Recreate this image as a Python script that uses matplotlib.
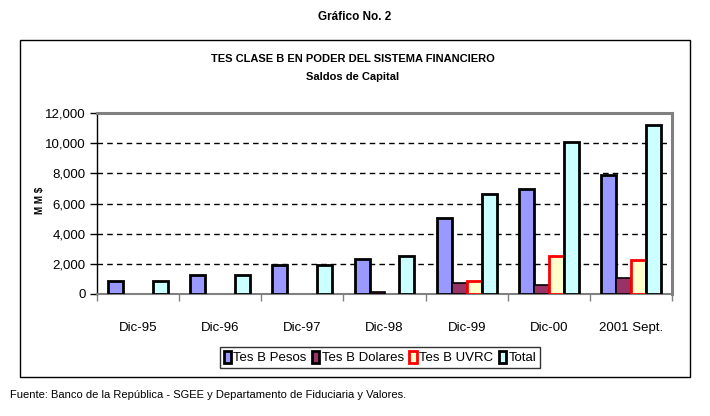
import matplotlib
matplotlib.use("Agg")
import matplotlib.pyplot as plt
from matplotlib.patches import Rectangle, Patch
from matplotlib.ticker import FuncFormatter
import numpy as np

categories = ["Dic-95", "Dic-96", "Dic-97", "Dic-98", "Dic-99", "Dic-00", "2001 Sept."]
pesos = [850, 1260, 1900, 2320, 5040, 6940, 7890]
dolares = [0, 0, 0, 150, 750, 600, 1080]
uvrc = [0, 0, 0, 0, 860, 2520, 2230]
total = [850, 1260, 1900, 2520, 6610, 10080, 11230]
series_names = ["Tes B Pesos", "Tes B Dolares", "Tes B UVRC", "Total"]
yticks = [0, 2000, 4000, 6000, 8000, 10000, 12000]

plt.rcParams['font.family'] = ['Liberation Sans Narrow', 'Liberation Sans', 'DejaVu Sans']

W, H = 710, 416
fig = plt.figure(figsize=(W / 100, H / 100), dpi=100)

def fx(px):
    return px / W

def fy(py):
    return 1 - py / H

# outer box
fig.patches.append(Rectangle((fx(20), fy(377)), fx(690) - fx(20), fy(40) - fy(377),
                             transform=fig.transFigure, fill=False, edgecolor='black', linewidth=1.0))

fig.text(fx(355), fy(17), "Gráfico No. 2", ha='center', va='center', fontsize=8.5, fontweight='bold')
fig.text(fx(353), fy(59), "TES CLASE B EN PODER DEL SISTEMA FINANCIERO", ha='center', va='center',
         fontsize=8, fontweight='bold')
fig.text(fx(353), fy(77), "Saldos de Capital", ha='center', va='center', fontsize=8, fontweight='bold')
fig.text(fx(10), fy(395), "Fuente: Banco de la República - SGEE y Departamento de Fiduciaria y Valores.",
         ha='left', va='center', fontsize=8)

left, right, top, bottom = 97, 672, 113, 294
ax = fig.add_axes([fx(left), fy(bottom), fx(right) - fx(left), fy(top) - fy(bottom)])

n = len(categories)
x = np.arange(n)
w = 1 / 5.5
data = [pesos, dolares, uvrc, total]
faces = ['#9999FF', '#993366', '#FFFFCC', '#CCFFFF']
edges = ['black', 'black', '#FF0000', 'black']
lws = [2.0, 1.2, 2.0, 2.0]
for i, (vals, fc, ec, lw) in enumerate(zip(data, faces, edges, lws)):
    offs = (i - 1.5) * w
    bars = ax.bar(x + offs, vals, width=w, color=fc, edgecolor=ec, linewidth=lw, zorder=3)
    for b, v in zip(bars, vals):
        if v == 0:
            b.set_linewidth(0)

ax.set_xlim(-0.5, n - 0.5)
ax.set_ylim(0, 12000)
ax.set_yticks(yticks)
ax.yaxis.set_major_formatter(FuncFormatter(lambda v, p: f"{int(v):,}"))
for yv in yticks[1:-1]:
    ax.axhline(yv, color='black', linestyle=(0, (4, 3)), linewidth=1.0, zorder=1)

ax.set_xticks(np.arange(n + 1) - 0.5)
ax.set_xticklabels([])
ax.set_xticks(x, minor=True)
ax.set_xticklabels(categories, minor=True)
ax.tick_params(axis='x', which='minor', length=0, pad=20, labelsize=9.5)
ax.tick_params(axis='x', which='major', length=5, width=1, color='#808080', direction='out')
ax.tick_params(axis='y', length=5, width=1, direction='out', labelsize=9.5, pad=3)

for s in ['top', 'right']:
    ax.spines[s].set_color('#808080')
    ax.spines[s].set_linewidth(2.2)
ax.spines['left'].set_color('black')
ax.spines['left'].set_linewidth(1.0)
ax.spines['bottom'].set_color('#808080')
ax.spines['bottom'].set_linewidth(1.5)

fig.text(fx(40), fy(200), "M M $", rotation=90, ha='center', va='center', fontsize=7, fontweight='bold')

handles = [Patch(facecolor=fc, edgecolor=ec, linewidth=2.0) for fc, ec in zip(faces, edges)]
leg = fig.legend(handles, series_names, loc='center', bbox_to_anchor=(fx(380), fy(357.5)),
                 ncol=4, fontsize=9.5, frameon=True, fancybox=False, handlelength=0.55, handleheight=1.0,
                 handletextpad=0.2, columnspacing=0.4, borderpad=0.3, borderaxespad=0)
leg.get_frame().set_edgecolor('black')
leg.get_frame().set_linewidth(1.0)

fig.savefig("out.png", dpi=100)
